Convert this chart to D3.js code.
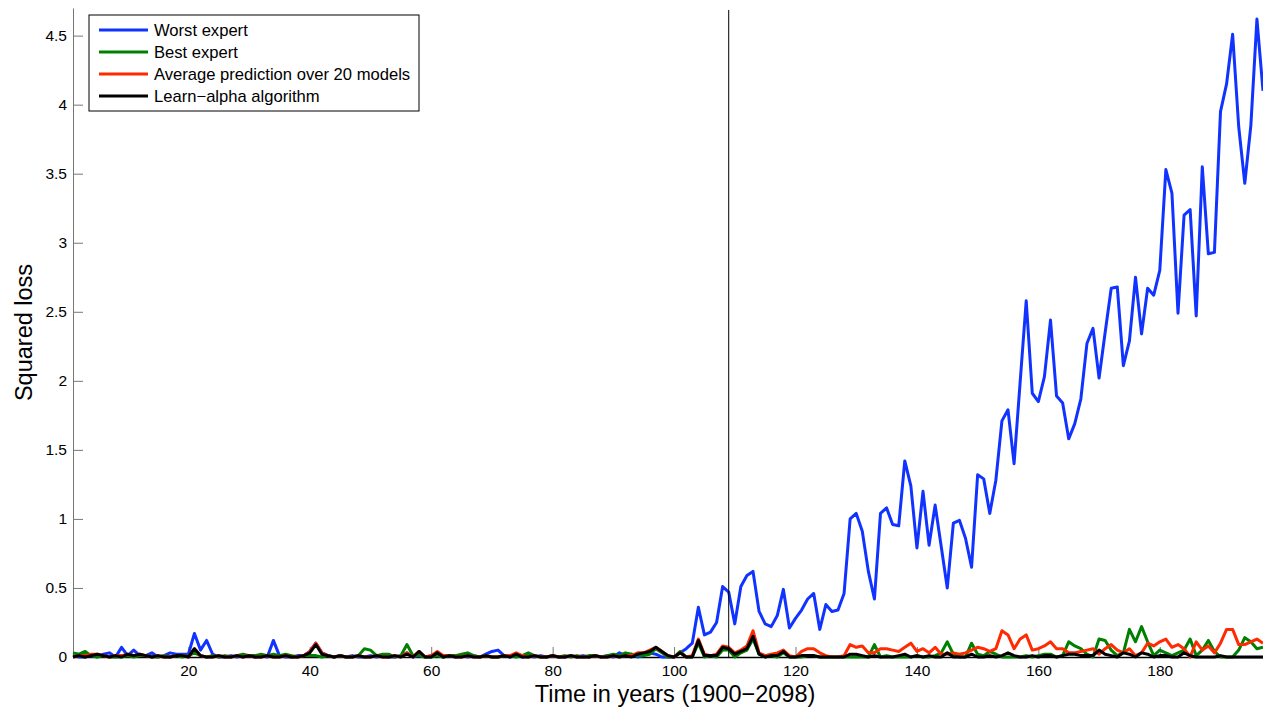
<!DOCTYPE html>
<html>
<head>
  <meta charset="UTF-8" />
  <title>Squared loss over time</title>
  <style>
    html, body { margin: 0; padding: 0; background: #fff; }
    svg { display: block; font-family: "Liberation Sans", Arial, Helvetica, sans-serif; }
    .tick text { font-size: 15.5px; fill: #000; }
  </style>
  <script src="https://d3js.org/d3.v7.min.js"></script>
</head>
<body>
  <script>
    /* Data: one value per year index 1..197 */
    const worstExpert = [
      0.01,0.00,0.00,0.01,0.00,0.02,0.03,0.00,0.07,0.01,
      0.05,0.01,0.01,0.03,0.00,0.01,0.03,0.02,0.02,0.02,
      0.17,0.05,0.12,0.02,0.00,0.00,0.01,0.00,0.01,0.01,
      0.00,0.01,0.00,0.12,0.01,0.00,0.00,0.01,0.01,0.04,
      0.10,0.03,0.01,0.00,0.01,0.00,0.01,0.00,0.00,0.01,
      0.00,0.01,0.00,0.00,0.01,0.03,0.00,0.01,0.00,0.01,
      0.01,0.00,0.01,0.00,0.01,0.00,0.01,0.00,0.02,0.04,
      0.05,0.01,0.00,0.01,0.00,0.01,0.00,0.01,0.00,0.01,
      0.00,0.00,0.01,0.00,0.01,0.00,0.01,0.00,0.01,0.00,
      0.03,0.01,0.02,0.00,0.01,0.03,0.02,0.00,0.00,0.00,
      0.03,0.06,0.10,0.36,0.16,0.18,0.25,0.51,0.47,0.24,
      0.51,0.59,0.62,0.33,0.24,0.22,0.30,0.49,0.21,0.28,
      0.34,0.42,0.46,0.20,0.38,0.33,0.34,0.46,1.00,1.04,
      0.91,0.62,0.42,1.04,1.08,0.96,0.95,1.42,1.24,0.79,
      1.20,0.81,1.10,0.80,0.50,0.97,0.99,0.86,0.65,1.32,
      1.29,1.04,1.28,1.71,1.79,1.40,1.99,2.58,1.91,1.85,
      2.03,2.44,1.89,1.84,1.58,1.69,1.87,2.27,2.38,2.02,
      2.35,2.67,2.68,2.11,2.29,2.75,2.34,2.67,2.62,2.80,
      3.53,3.36,2.49,3.20,3.24,2.47,3.55,2.92,2.93,3.95,
      4.15,4.51,3.84,3.43,3.85,4.62,4.10
    ];
    const bestExpert = [
      0.03,0.02,0.04,0.01,0.00,0.01,0.00,0.00,0.00,0.01,
      0.00,0.01,0.01,0.00,0.00,0.01,0.00,0.01,0.00,0.01,
      0.03,0.01,0.00,0.01,0.00,0.01,0.00,0.01,0.02,0.01,
      0.01,0.02,0.01,0.02,0.01,0.02,0.01,0.00,0.01,0.01,
      0.01,0.00,0.01,0.00,0.01,0.00,0.00,0.01,0.06,0.05,
      0.01,0.02,0.02,0.00,0.01,0.09,0.01,0.01,0.00,0.00,
      0.01,0.00,0.01,0.01,0.02,0.03,0.01,0.00,0.01,0.00,
      0.00,0.01,0.01,0.00,0.01,0.03,0.01,0.00,0.00,0.01,
      0.00,0.01,0.00,0.01,0.00,0.01,0.01,0.00,0.01,0.02,
      0.01,0.03,0.02,0.01,0.01,0.02,0.06,0.03,0.00,0.00,
      0.04,0.00,0.00,0.10,0.00,0.01,0.00,0.05,0.05,0.00,
      0.03,0.05,0.13,0.02,0.00,0.01,0.00,0.03,0.00,0.00,
      0.00,0.01,0.01,0.00,0.00,0.00,0.00,0.00,0.00,0.00,
      0.00,0.00,0.09,0.00,0.01,0.00,0.00,0.00,0.00,0.01,
      0.00,0.00,0.01,0.03,0.11,0.02,0.00,0.00,0.10,0.02,
      0.01,0.04,0.02,0.00,0.00,0.00,0.00,0.01,0.00,0.01,
      0.02,0.02,0.00,0.01,0.11,0.08,0.06,0.02,0.00,0.13,
      0.12,0.05,0.01,0.03,0.20,0.11,0.22,0.11,0.01,0.05,
      0.03,0.01,0.03,0.05,0.13,0.01,0.05,0.12,0.04,0.00,
      0.00,0.00,0.05,0.14,0.11,0.06,0.07
    ];
    const averagePrediction = [
      0.00,0.01,0.01,0.02,0.02,0.01,0.00,0.01,0.01,0.02,
      0.01,0.02,0.01,0.00,0.01,0.00,0.00,0.01,0.01,0.00,
      0.06,0.01,0.00,0.00,0.01,0.00,0.00,0.01,0.00,0.01,
      0.00,0.00,0.01,0.00,0.00,0.01,0.00,0.00,0.01,0.04,
      0.10,0.03,0.01,0.00,0.01,0.00,0.00,0.01,0.00,0.00,
      0.01,0.00,0.00,0.01,0.00,0.03,0.00,0.04,0.00,0.01,
      0.04,0.01,0.01,0.00,0.00,0.01,0.00,0.00,0.01,0.00,
      0.00,0.01,0.01,0.03,0.01,0.00,0.01,0.00,0.00,0.01,
      0.00,0.00,0.01,0.00,0.00,0.00,0.01,0.00,0.00,0.01,
      0.00,0.01,0.01,0.03,0.03,0.05,0.07,0.04,0.01,0.00,
      0.03,0.00,0.01,0.13,0.02,0.01,0.02,0.08,0.07,0.03,
      0.05,0.08,0.19,0.03,0.01,0.02,0.03,0.05,0.01,0.00,
      0.04,0.06,0.06,0.03,0.01,0.00,0.00,0.01,0.09,0.07,
      0.08,0.03,0.03,0.06,0.06,0.05,0.04,0.07,0.10,0.04,
      0.06,0.03,0.07,0.02,0.02,0.03,0.02,0.03,0.05,0.07,
      0.06,0.04,0.06,0.19,0.16,0.06,0.13,0.16,0.05,0.06,
      0.08,0.11,0.06,0.06,0.03,0.03,0.04,0.05,0.06,0.02,
      0.06,0.09,0.05,0.03,0.06,0.01,0.03,0.10,0.08,0.11,
      0.13,0.07,0.09,0.06,0.00,0.11,0.05,0.08,0.03,0.10,
      0.20,0.20,0.09,0.09,0.11,0.13,0.10
    ];
    const learnAlpha = [
      0.00,0.01,0.00,0.01,0.02,0.01,0.00,0.01,0.00,0.02,
      0.01,0.02,0.01,0.00,0.01,0.00,0.00,0.01,0.01,0.00,
      0.06,0.01,0.00,0.00,0.01,0.00,0.00,0.01,0.00,0.01,
      0.00,0.00,0.01,0.00,0.00,0.01,0.00,0.00,0.01,0.03,
      0.09,0.02,0.01,0.00,0.01,0.00,0.00,0.01,0.00,0.00,
      0.01,0.00,0.00,0.01,0.00,0.02,0.00,0.04,0.00,0.00,
      0.03,0.00,0.01,0.00,0.00,0.01,0.00,0.00,0.01,0.00,
      0.00,0.01,0.00,0.02,0.00,0.00,0.01,0.00,0.00,0.01,
      0.00,0.00,0.01,0.00,0.00,0.00,0.01,0.00,0.00,0.01,
      0.00,0.01,0.00,0.02,0.03,0.04,0.07,0.04,0.01,0.00,
      0.03,0.00,0.00,0.12,0.01,0.01,0.01,0.07,0.06,0.02,
      0.04,0.06,0.15,0.02,0.00,0.01,0.01,0.04,0.00,0.00,
      0.01,0.01,0.01,0.00,0.00,0.00,0.00,0.00,0.02,0.02,
      0.01,0.00,0.01,0.00,0.00,0.00,0.01,0.02,0.00,0.01,
      0.00,0.01,0.00,0.00,0.03,0.00,0.00,0.00,0.02,0.00,
      0.00,0.01,0.00,0.01,0.03,0.01,0.00,0.00,0.01,0.00,
      0.01,0.01,0.00,0.01,0.02,0.02,0.01,0.01,0.01,0.05,
      0.02,0.01,0.00,0.03,0.02,0.00,0.03,0.02,0.00,0.01,
      0.01,0.00,0.00,0.03,0.01,0.00,0.00,0.00,0.00,0.01,
      0.00,0.00,0.00,0.00,0.00,0.00,0.00
    ];
    const seriesNames = ["Worst expert", "Best expert", "Average prediction over 20 models", "Learn\u2212alpha algorithm"];
    const seriesColors = ["#1033ff", "#008000", "#ff2a00", "#000000"];
    const xTicks = [20, 40, 60, 80, 100, 120, 140, 160, 180];
    const yTicks = [0, 0.5, 1, 1.5, 2, 2.5, 3, 3.5, 4, 4.5];
    const markerYear = 109;

    const W = 1263, H = 710,
      margin = { top: 8, right: 0, bottom: 53, left: 73 };

    const svg = d3.select("body").append("svg")
      .attr("width", W)
      .attr("height", H);

    const x = d3.scaleLinear().domain([1, 197]).range([margin.left, W - margin.right]);
    const y = d3.scaleLinear().domain([0, 4.7]).range([H - margin.bottom, margin.top]);

    /* Axes (ticks point inward, MATLAB style) */
    const yAxis = svg.append("g")
      .attr("transform", `translate(${margin.left},0)`)
      .call(d3.axisLeft(y).tickValues(yTicks).tickSizeInner(-10).tickSizeOuter(0).tickPadding(6)
        .tickFormat(d3.format("~g")));
    yAxis.select(".domain").attr("stroke", "#777");
    yAxis.selectAll(".tick line").attr("stroke", "#777");

    const xAxis = svg.append("g")
      .attr("transform", `translate(0,${H - margin.bottom})`)
      .call(d3.axisBottom(x).tickValues(xTicks).tickSizeInner(-10).tickSizeOuter(0).tickPadding(8));
    xAxis.select(".domain").attr("stroke", "#000").attr("stroke-width", 1.5);
    xAxis.selectAll(".tick line").attr("stroke", "#777");

    /* Lines */
    const line = d3.line()
      .x((d, i) => x(i + 1))
      .y(d => y(d));

    const allSeries = [worstExpert, bestExpert, averagePrediction, learnAlpha];
    svg.append("g")
      .selectAll("path")
      .data(allSeries)
      .enter()
      .append("path")
      .attr("d", line)
      .attr("fill", "none")
      .attr("stroke", (d, i) => seriesColors[i])
      .attr("stroke-width", 3)
      .attr("stroke-linejoin", "round");

    /* Vertical marker line */
    svg.append("line")
      .attr("x1", x(markerYear)).attr("x2", x(markerYear))
      .attr("y1", 10).attr("y2", y(0))
      .attr("stroke", "#000")
      .attr("stroke-width", 1);

    /* Axis labels */
    svg.append("text")
      .attr("x", 675)
      .attr("y", 702)
      .attr("text-anchor", "middle")
      .style("font-size", "23.5px")
      .text("Time in years (1900\u22122098)");

    svg.append("text")
      .attr("transform", `translate(32,${(margin.top + H - margin.bottom) / 2}) rotate(-90)`)
      .attr("text-anchor", "middle")
      .style("font-size", "23.5px")
      .text("Squared loss");

    /* Legend */
    const legend = svg.append("g").attr("transform", "translate(89,15)");
    legend.append("rect")
      .attr("width", 330).attr("height", 96)
      .attr("fill", "#fff").attr("stroke", "#000").attr("stroke-width", 1);

    const items = legend.selectAll(".legend-item")
      .data(seriesNames)
      .enter()
      .append("g")
      .attr("class", "legend-item")
      .attr("transform", (d, i) => `translate(0,${15 + i * 22})`);

    items.append("line")
      .attr("x1", 10).attr("x2", 59)
      .attr("stroke", (d, i) => seriesColors[i])
      .attr("stroke-width", 3);

    items.append("text")
      .attr("x", 65)
      .attr("dy", "0.35em")
      .style("font-size", "16.6px")
      .text(d => d);
  </script>
</body>
</html>
